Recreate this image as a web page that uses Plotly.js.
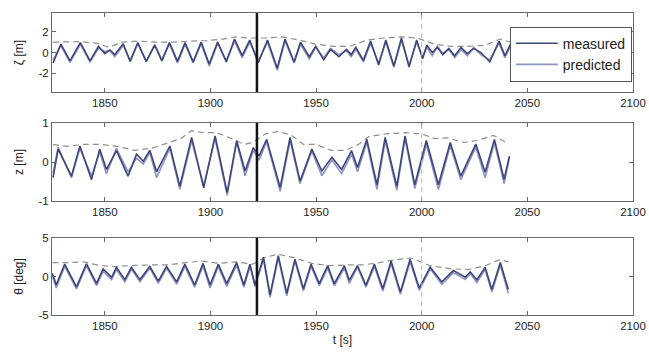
<!DOCTYPE html>
<html>
<head>
<meta charset="utf-8">
<script src="https://cdn.plot.ly/plotly-3.0.1.min.js"></script>
<style>
  html, body { margin: 0; padding: 0; background: #ffffff; }
  #chart { width: 649px; height: 352px; }
</style>
</head>
<body>
<div id="chart"></div>
<script>
// ---- wave elevation zeta [m] ----
const tZeta = [1825.5, 1829.2, 1833.5, 1838.4, 1843.0, 1847.0, 1850.0, 1852.4, 1854.7, 1858.7,
  1862.0, 1865.6, 1869.6, 1873.6, 1877.0, 1880.6, 1884.4, 1888.0, 1891.8, 1895.6,
  1899.4, 1903.4, 1907.5, 1911.4, 1915.0, 1918.6, 1922.6, 1927.0, 1931.6, 1935.3,
  1939.6, 1942.6, 1946.8, 1949.8, 1953.6, 1956.8, 1960.8, 1964.4, 1966.6, 1968.8,
  1972.4, 1975.8, 1979.6, 1983.0, 1986.8, 1990.4, 1994.0, 1997.6, 2000.4, 2002.4,
  2005.0, 2007.4, 2010.0, 2012.8, 2015.6, 2018.6, 2021.6, 2024.6, 2028.0, 2032.2,
  2036.6, 2039.4, 2042.0];
const zetaMeasured = [-1.0, 0.8, -0.8, 0.95, -0.8, 0.6, -0.1, 0.25, -0.2, 0.85,
  -0.85, 0.95, -0.85, 0.7, -0.8, 0.95, -0.85, 0.95, -0.9, 1.0,
  -1.1, 1.0, -0.9, 1.3, -0.3, 1.2, -1.0, 1.2, -1.5, 1.3,
  -0.9, 1.0, -0.4, 0.6, -0.7, 0.3, -0.4, 0.3, -0.2, 0.5,
  -0.75, 1.1, -1.2, 1.2, -1.3, 1.4, -1.4, 1.2, -0.6, 0.7,
  0.0, 0.5, -0.2, 0.4, -0.3, 0.5, -0.1, 0.4, 0.0, -0.9,
  1.1, -0.3, 0.8];
const zetaPredicted = [-0.7, 0.7, -0.95, 0.8, -0.9, 0.4, 0.1, 0.2, -0.4, 0.7,
  -0.8, 0.85, -0.9, 0.8, -0.7, 0.85, -1.0, 0.8, -1.0, 0.85,
  -1.3, 0.9, -0.8, 1.1, -0.5, 1.0, -0.8, 1.0, -1.7, 1.1,
  -1.0, 0.8, -0.6, 0.5, -0.5, 0.4, -0.2, 0.2, -0.4, 0.3,
  -0.9, 0.9, -1.0, 1.0, -1.4, 1.2, -1.2, 1.0, -0.4, 0.5,
  -0.3, 0.6, -0.1, 0.3, -0.5, 0.3, -0.3, 0.5, -0.2, -0.7,
  0.9, -0.5, 0.6];
const tZetaBound = [1825.5, 1830, 1838, 1846, 1852, 1858, 1866, 1874, 1882, 1890,
  1898, 1906, 1912, 1918, 1926, 1934, 1942, 1950, 1958, 1966,
  1974, 1982, 1990, 1998, 2006, 2014, 2022, 2030, 2037, 2042];
const zetaBound = [1.0, 1.0, 1.05, 0.9, 0.5, 1.0, 1.1, 1.0, 1.0, 1.1,
  1.15, 1.3, 1.5, 1.4, 1.4, 1.5, 1.2, 0.8, 0.6, 0.6,
  1.2, 1.4, 1.5, 1.4, 0.8, 0.6, 0.6, 0.7, 1.3, 1.0];

// ---- heave z [m] ----
const tHeave = [1825.5, 1827.9, 1834.2, 1838.2, 1843.7, 1847.6, 1850.8, 1855.5, 1861.0, 1865.0,
  1868.2, 1871.3, 1874.5, 1880.8, 1885.5, 1891.1, 1896.8, 1902.2, 1907.9, 1912.4,
  1916.4, 1920.3, 1923.0, 1926.6, 1933.0, 1937.7, 1942.4, 1948.0, 1952.7, 1957.5,
  1962.1, 1966.8, 1969.6, 1974.0, 1978.8, 1982.7, 1988.2, 1992.1, 1996.7, 2002.2,
  2007.9, 2013.5, 2018.5, 2025.6, 2030.0, 2034.4, 2039.0, 2041.5];
const heaveMeasured = [-0.40, 0.33, -0.36, 0.41, -0.45, 0.33, -0.19, 0.29, -0.36, 0.20,
  0.02, 0.30, -0.25, 0.41, -0.62, 0.63, -0.66, 0.67, -0.78, 0.55,
  -0.23, 0.37, 0.15, 0.58, -0.65, 0.63, -0.49, 0.33, -0.23, 0.12,
  -0.19, 0.29, -0.14, 0.58, -0.58, 0.63, -0.62, 0.67, -0.58, 0.55,
  -0.58, 0.50, -0.36, 0.46, -0.26, 0.58, -0.44, 0.15];
const heavePredicted = [-0.30, 0.38, -0.40, 0.35, -0.35, 0.25, -0.30, 0.35, -0.25, 0.10,
  -0.05, 0.25, -0.40, 0.35, -0.70, 0.55, -0.60, 0.60, -0.85, 0.50,
  -0.35, 0.30, 0.05, 0.52, -0.75, 0.55, -0.55, 0.28, -0.35, 0.05,
  -0.30, 0.20, -0.25, 0.50, -0.70, 0.55, -0.72, 0.60, -0.68, 0.45,
  -0.70, 0.42, -0.45, 0.38, -0.40, 0.50, -0.55, 0.10];
const tHeaveBound = [1825.5, 1832, 1840, 1848, 1856, 1864, 1872, 1880, 1886, 1891,
  1897, 1903, 1910, 1916, 1920, 1926, 1932, 1938, 1944, 1950,
  1957, 1964, 1970, 1975, 1983, 1992, 2000, 2006, 2012, 2020,
  2026, 2034, 2040];
const heaveBound = [0.45, 0.40, 0.45, 0.45, 0.40, 0.30, 0.35, 0.50, 0.60, 0.80,
  0.75, 0.75, 0.60, 0.45, 0.50, 0.72, 0.78, 0.70, 0.45, 0.45,
  0.30, 0.30, 0.45, 0.65, 0.72, 0.75, 0.72, 0.60, 0.62, 0.50,
  0.55, 0.68, 0.50];

// ---- pitch theta [deg] ----
const tPitch = [1825.2, 1827.0, 1831.0, 1836.6, 1841.3, 1846.1, 1849.2, 1853.2, 1855.5, 1859.5,
  1862.6, 1866.6, 1871.3, 1875.3, 1879.2, 1884.0, 1887.9, 1892.5, 1896.5, 1899.8,
  1903.7, 1907.7, 1912.4, 1915.8, 1918.7, 1921.1, 1925.1, 1928.2, 1932.1, 1936.1,
  1940.0, 1944.0, 1947.6, 1951.5, 1955.5, 1958.6, 1963.4, 1965.7, 1969.6, 1973.6,
  1977.6, 1981.6, 1985.5, 1989.9, 1994.5, 1998.8, 2004.0, 2009.5, 2015.0, 2020.6,
  2023.0, 2026.1, 2030.0, 2033.2, 2037.2, 2041.0];
const pitchMeasured = [0.4, -1.1, 1.6, -1.35, 1.65, -0.9, 1.0, -0.1, 1.2, -0.4,
  1.2, -0.4, 1.3, -0.6, 1.3, -0.7, 1.6, -1.1, 1.7, -1.1,
  1.6, -0.93, 1.8, -1.1, 1.6, -1.1, 2.5, -2.4, 2.7, -2.2,
  2.25, -1.6, 1.6, -0.93, 1.4, -0.93, 1.4, -0.5, 1.4, -1.14,
  1.6, -1.6, 2.0, -2.0, 2.25, -1.5, 1.2, -0.7, 0.77, -0.1,
  0.6, -0.45, 1.2, -1.7, 1.83, -1.7];
const pitchPredicted = [0.1, -1.5, 1.3, -1.6, 1.4, -1.2, 0.7, -0.4, 0.9, -0.7,
  1.0, -0.7, 1.1, -0.9, 1.1, -1.0, 1.3, -1.4, 1.4, -1.5,
  1.3, -1.3, 1.5, -1.4, 1.3, -1.3, 2.2, -2.7, 2.4, -2.5,
  2.0, -1.9, 1.3, -1.2, 1.1, -1.2, 1.1, -0.9, 1.2, -1.4,
  1.3, -1.9, 1.7, -2.3, 1.9, -1.8, 1.0, -1.0, 0.5, -0.4,
  0.4, -0.8, 0.9, -2.0, 1.5, -2.2];
const tPitchBound = [1825.2, 1832, 1840, 1848, 1856, 1864, 1872, 1880, 1888, 1896,
  1904, 1912, 1920, 1926, 1932, 1940, 1948, 1956, 1964, 1972,
  1980, 1988, 1995, 2004, 2014, 2022, 2030, 2037, 2041];
const pitchBound = [1.8, 1.8, 1.9, 1.4, 1.3, 1.45, 1.5, 1.5, 1.8, 2.0,
  1.7, 1.9, 1.6, 2.5, 2.9, 2.4, 1.7, 1.4, 1.5, 1.5,
  1.8, 2.2, 2.4, 1.4, 1.0, 0.9, 1.4, 2.2, 1.9];

// ---- axes ----
const xTicks = [1850, 1900, 1950, 2000, 2050, 2100];
const zetaTicks = [-2, 0, 2];
const heaveTicks = [-1, 0, 1];
const pitchTicks = [-5, 0, 5];
const eventTime = 1922;
const forecastTime = 2000;

const measuredColor = '#3d4677';
const predictedColor = '#8e93c3';
const boundColor = '#8f8f8f';

function panelTraces(t, meas, pred, tb, bound, xa, ya, legend) {
  return [
    { x: tb, y: bound, xaxis: xa, yaxis: ya, type: 'scatter', mode: 'lines',
      line: { color: boundColor, width: 1.2, dash: '6px,4px' }, showlegend: false, hoverinfo: 'skip' },
    { x: t, y: pred, xaxis: xa, yaxis: ya, type: 'scatter', mode: 'lines', name: 'predicted',
      line: { color: predictedColor, width: 1.6 }, showlegend: false },
    { x: t, y: meas, xaxis: xa, yaxis: ya, type: 'scatter', mode: 'lines', name: 'measured',
      line: { color: measuredColor, width: 1.6 }, showlegend: legend, legendrank: 1 }
  ];
}

const traces = [].concat(
  panelTraces(tZeta, zetaMeasured, zetaPredicted, tZetaBound, zetaBound, 'x', 'y', true),
  panelTraces(tHeave, heaveMeasured, heavePredicted, tHeaveBound, heaveBound, 'x2', 'y2', false),
  panelTraces(tPitch, pitchMeasured, pitchPredicted, tPitchBound, pitchBound, 'x3', 'y3', false)
);
// predicted entry in the legend
traces[1].showlegend = true;
traces[1].legendrank = 2;

const tickFont = { family: 'Liberation Sans, Arial, sans-serif', size: 11.5, color: '#1e1e1e' };
const titleFont = { family: 'Liberation Sans, Arial, sans-serif', size: 12, color: '#222' };

function xAxis(anchor, title) {
  const ax = {
    anchor: anchor, range: [1825, 2100], tickvals: xTicks, ticktext: xTicks.map(String),
    ticks: 'inside', ticklen: 4, tickcolor: '#666', showline: true, linecolor: '#6a6a6a',
    linewidth: 1, mirror: 'ticks', showgrid: false, zeroline: false, tickfont: tickFont
  };
  if (title) ax.title = { text: title, font: titleFont, standoff: 4 };
  return ax;
}
function yAxis(anchor, domain, range, ticks, title) {
  return {
    anchor: anchor, domain: domain, range: range, tickvals: ticks,
    ticktext: ticks.map(String),
    ticks: 'inside', ticklen: 4, tickcolor: '#666', showline: true, linecolor: '#6a6a6a',
    linewidth: 1, mirror: 'ticks', showgrid: false, zeroline: false, tickfont: tickFont,
    title: { text: title, font: titleFont, standoff: 12 }
  };
}

function vline(x, xa, ya, color, width, dash) {
  return { type: 'line', xref: xa, yref: ya + ' domain', x0: x, x1: x, y0: 0, y1: 1,
    line: { color: color, width: width, dash: dash } };
}

const shapes = [];
[['x', 'y'], ['x2', 'y2'], ['x3', 'y3']].forEach(function (p) {
  shapes.push(vline(forecastTime, p[0], p[1], '#bcb2b2', 1, '5px,4px'));
  shapes.push(vline(eventTime, p[0], p[1], '#111111', 2.5, 'solid'));
});

const layout = {
  width: 649, height: 352,
  margin: { l: 52, r: 16, t: 13, b: 37 },
  paper_bgcolor: '#ffffff', plot_bgcolor: '#ffffff',
  showlegend: true,
  legend: {
    x: 0.998, xanchor: 'right', y: 0.955, yanchor: 'top',
    bgcolor: '#ffffff', bordercolor: '#555', borderwidth: 1,
    font: { family: 'Liberation Sans, Arial, sans-serif', size: 14, color: '#222' },
    itemwidth: 42, tracegroupgap: 0
  },
  xaxis: xAxis('y'),
  xaxis2: xAxis('y2'),
  xaxis3: xAxis('y3', 't [s]'),
  yaxis: yAxis('x', [0.738, 1], [-3.8, 3.8], zetaTicks, 'ζ [m]'),
  yaxis2: yAxis('x2', [0.377, 0.636], [-1, 1], heaveTicks, 'z [m]'),
  yaxis3: yAxis('x3', [0, 0.255], [-5, 5], pitchTicks, 'θ [deg]'),
  shapes: shapes
};

Plotly.newPlot('chart', traces, layout, { displayModeBar: false, staticPlot: true });
</script>
</body>
</html>
